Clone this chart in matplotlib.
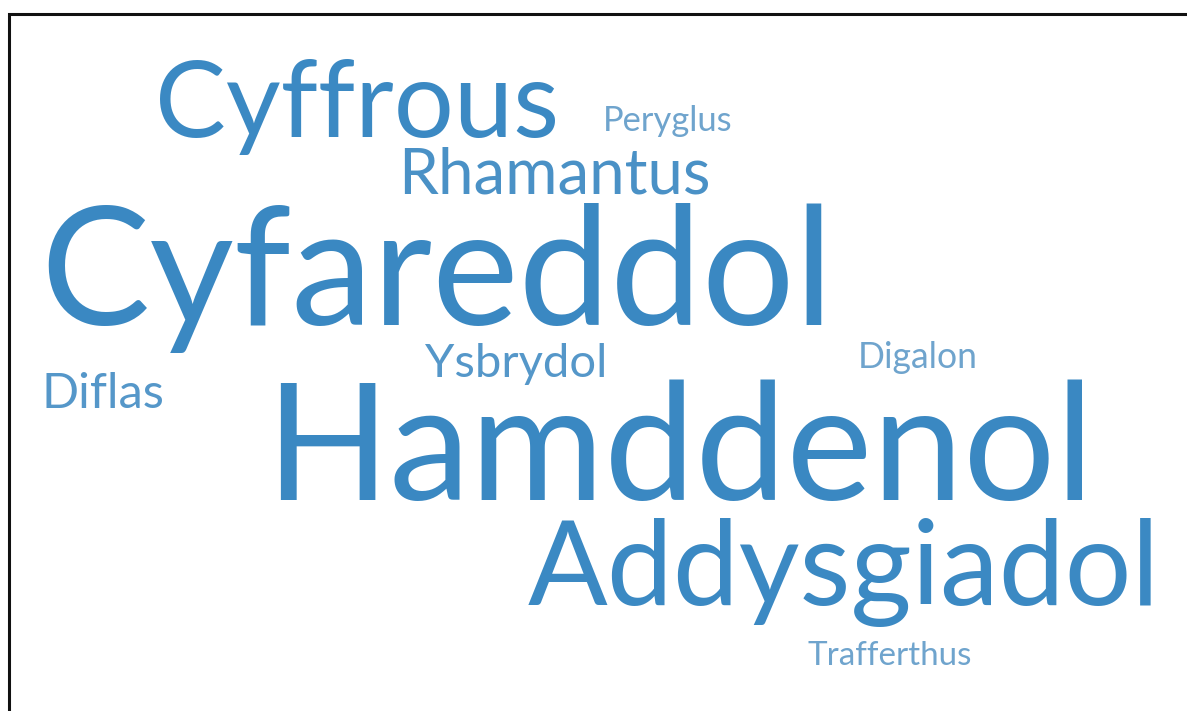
import matplotlib
matplotlib.use("Agg")
import matplotlib.pyplot as plt

# word cloud entries
words = ["Cyffrous", "Peryglus", "Rhamantus", "Cyfareddol", "Ysbrydol",
         "Digalon", "Diflas", "Hamddenol", "Addysgiadol", "Trafferthus"]
weights = [7, 2, 4, 10, 3, 2, 3, 10, 7, 2]

# layout: left edge, baseline, target width (pixels)
left = [155, 603, 398, 40, 425, 858, 42, 265, 528, 808]
baseline = [137, 131, 193, 325, 377, 368, 408, 500, 605, 665]
width = [405, 130, 313, 795, 182, 120, 123, 830, 632, 165]

colors = {10: "#3a88c2", 7: "#3b89c3", 4: "#4a91c6", 3: "#5597c9", 2: "#6fa4cd"}

W, H = 1187, 711
fig = plt.figure(figsize=(W / 100, H / 100), dpi=100)
ax = fig.add_axes([0, 0, 1, 1])
ax.set_xlim(0, W)
ax.set_ylim(H, 0)
ax.axis("off")

# frame: only top and left edges are visible
ax.plot([8.5, 8.5, W], [H, 13.5, 13.5], color="#111111", lw=2.2,
        solid_joinstyle="miter")

fig.canvas.draw()
renderer = fig.canvas.get_renderer()
for w, wt, x, y, tw in zip(words, weights, left, baseline, width):
    t = ax.text(x, y, w, fontsize=20, family=["Lato", "DejaVu Sans"],
                ha="left", va="baseline", color=colors[wt])
    bb = t.get_window_extent(renderer)
    t.set_fontsize(20 * tw / bb.width)

fig.savefig("out.png", dpi=100)
